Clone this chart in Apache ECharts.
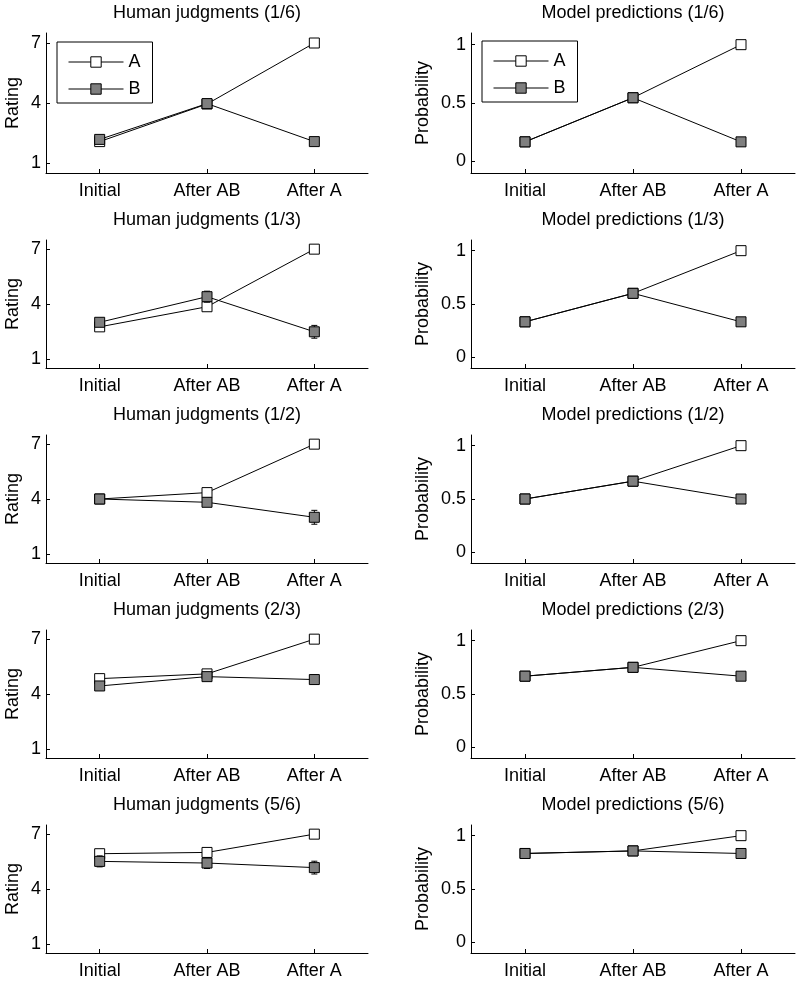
<!DOCTYPE html>
<html>
<head>
<meta charset="utf-8">
<script src="https://cdn.jsdelivr.net/npm/echarts@6/dist/echarts.min.js"></script>
<style>
html,body{margin:0;padding:0;background:#fff;}
#chart{width:800px;height:981px;}
</style>
</head>
<body>
<div id="chart"></div>
<script>
// ---- data ----
const categories = ['Initial', 'After AB', 'After A'];
const conditions = ['1/6', '1/3', '1/2', '2/3', '5/6'];
const humanTicks = [1, 4, 7];
const modelTicks = [0, 0.5, 1];

const humanA = [
  [2.07, 3.95, 7],
  [2.75, 3.85, 7],
  [4.0, 4.35, 7],
  [4.84, 5.1, 7],
  [5.93, 6.0, 7]
];
const humanB = [
  [2.18, 3.97, 2.07],
  [3.0, 4.4, 2.48],
  [4.0, 3.82, 3.0],
  [4.44, 4.95, 4.79],
  [5.51, 5.42, 5.17]
];
const humanAErr = [
  [0.1, 0.1, 0],
  [0.1, 0.15, 0],
  [0.1, 0.15, 0],
  [0.15, 0.1, 0],
  [0.15, 0.2, 0]
];
const humanBErr = [
  [0.1, 0.1, 0.15],
  [0.15, 0.3, 0.35],
  [0.1, 0.2, 0.38],
  [0.15, 0.15, 0.25],
  [0.3, 0.3, 0.35]
];
const modelA = [
  [0.167, 0.545, 1],
  [0.333, 0.6, 1],
  [0.5, 0.667, 1],
  [0.667, 0.75, 1],
  [0.833, 0.857, 1]
];
const modelB = [
  [0.167, 0.545, 0.167],
  [0.333, 0.6, 0.333],
  [0.5, 0.667, 0.5],
  [0.667, 0.75, 0.667],
  [0.833, 0.857, 0.833]
];

// ---- layout ----
const FONT = '"Liberation Sans", Arial, Helvetica, sans-serif';
const rowTops = [33, 240, 435, 630, 825];
const rowHeights = [140, 128, 128, 128, 128];
const cols = [{left: 46, width: 322}, {left: 471, width: 324}];

const grids = [], xAxes = [], yAxes = [], series = [], titles = [];

function errRender(params, api) {
  const x = api.value(0);
  const lo = api.coord([x, api.value(1)]);
  const hi = api.coord([x, api.value(2)]);
  const w = 3;
  const st = {stroke: '#000', lineWidth: 1};
  return {type: 'group', children: [
    {type: 'line', shape: {x1: lo[0], y1: lo[1], x2: hi[0], y2: hi[1]}, style: st},
    {type: 'line', shape: {x1: lo[0] - w, y1: lo[1], x2: lo[0] + w, y2: lo[1]}, style: st},
    {type: 'line', shape: {x1: hi[0] - w, y1: hi[1], x2: hi[0] + w, y2: hi[1]}, style: st}
  ]};
}

function lineSeries(name, data, idx, fill, z) {
  return {
    type: 'line', name: name, xAxisIndex: idx, yAxisIndex: idx, data: data,
    symbol: 'rect', symbolSize: 10, showSymbol: true, z: z,
    lineStyle: {color: '#000', width: 1},
    itemStyle: {color: fill, borderColor: '#000', borderWidth: 1, opacity: 1},
    emphasis: {disabled: true}, animation: false, silent: true
  };
}

function errSeries(vals, errs, idx, z) {
  const d = vals.map((v, i) => [i, v - errs[i], v + errs[i]]);
  return {
    type: 'custom', name: 'err', xAxisIndex: idx, yAxisIndex: idx, data: d,
    encode: {x: 0, y: [1, 2]}, renderItem: errRender, z: z, animation: false, silent: true
  };
}

conditions.forEach((cond, r) => {
  [0, 1].forEach(c => {
    const idx = grids.length;
    const g = {left: cols[c].left, width: cols[c].width, top: rowTops[r], height: rowHeights[r]};
    grids.push(g);
    xAxes.push({
      type: 'category', gridIndex: idx, data: categories, boundaryGap: true,
      axisLine: {show: true, onZero: false, lineStyle: {color: '#000', width: 1}},
      axisTick: {show: true, inside: true, alignWithLabel: true, length: 4, lineStyle: {color: '#000'}},
      axisLabel: {color: '#000', fontSize: 18, fontFamily: FONT, margin: 9},
      splitLine: {show: false}
    });
    const human = c === 0;
    yAxes.push({
      type: 'value', gridIndex: idx,
      min: human ? 0.5 : -0.1, max: human ? 7.5 : 1.1,
      name: human ? 'Rating' : 'Probability',
      nameLocation: 'middle', nameRotate: 90, nameGap: human ? 24 : 39,
      nameTextStyle: {color: '#000', fontSize: 18, fontFamily: FONT},
      axisLine: {show: true, onZero: false, lineStyle: {color: '#000', width: 1}},
      axisTick: {show: true, inside: true, length: 4, customValues: human ? humanTicks : modelTicks, lineStyle: {color: '#000'}},
      axisLabel: {color: '#000', fontSize: 18, fontFamily: FONT, margin: 5, customValues: human ? humanTicks : modelTicks},
      splitLine: {show: false}
    });
    titles.push({
      text: (human ? 'Human judgments (' : 'Model predictions (') + cond + ')',
      left: g.left + g.width / 2, top: rowTops[r] - 29, textAlign: 'center', padding: 0,
      textStyle: {color: '#000', fontSize: 18, fontWeight: 'normal', fontFamily: FONT}
    });
    if (human) {
      series.push(errSeries(humanA[r], humanAErr[r], idx, 2));
      series.push(lineSeries('A', humanA[r], idx, '#ffffff', 3));
      series.push(errSeries(humanB[r], humanBErr[r], idx, 4));
      series.push(lineSeries('B', humanB[r], idx, '#7f7f7f', 5));
    } else {
      series.push(lineSeries('A', modelA[r], idx, '#ffffff', 3));
      series.push(lineSeries('B', modelB[r], idx, '#7f7f7f', 5));
    }
  });
});

function legendAt(left, top) {
  return {
    data: ['A', 'B'], orient: 'vertical', left: left, top: top,
    itemWidth: 55, itemHeight: 13, itemGap: 9, itemTextGap: 7,
    padding: [11, 12, 5, 11], borderColor: '#000', borderWidth: 1, borderRadius: 0,
    backgroundColor: '#fff', selectedMode: false,
    lineStyle: {width: 1, color: '#000'},
    itemStyle: {borderWidth: 1, borderColor: '#000'},
    textStyle: {color: '#000', fontSize: 18, fontFamily: FONT}
  };
}

const chart = echarts.init(document.getElementById('chart'), null, {renderer: 'canvas'});
chart.setOption({
  backgroundColor: '#fff',
  animation: false,
  title: titles,
  legend: [legendAt(57, 42), legendAt(482, 41)],
  grid: grids,
  xAxis: xAxes,
  yAxis: yAxes,
  series: series
});
</script>
</body>
</html>
